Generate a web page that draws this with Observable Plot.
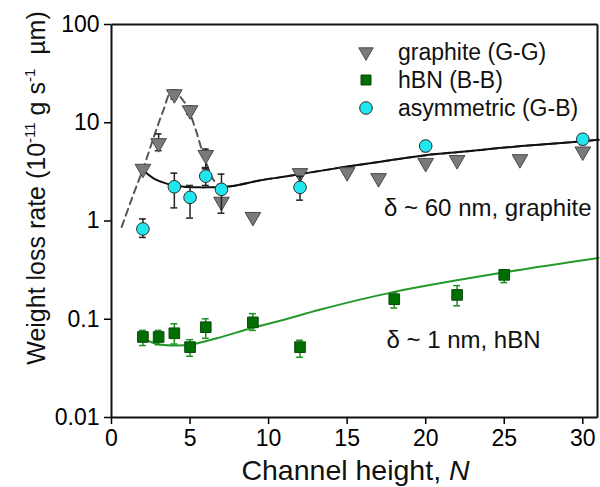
<!DOCTYPE html>
<html>
<head>
<meta charset="utf-8">
<script src="https://cdn.jsdelivr.net/npm/d3@7"></script>
<script src="https://cdn.jsdelivr.net/npm/@observablehq/plot@0.6"></script>
<style>
  html, body { margin: 0; padding: 0; background: #fff; }
  #chart svg { display: block; }
</style>
</head>
<body>
<div id="chart"></div>
<script>
// ---- Data ----
const graphiteN    = [2, 3, 4, 5, 6, 7, 9, 12, 15, 17, 20, 22, 26, 30];
const graphiteRate = [3.4, 6.2, 19.5, 13.4, 4.7, 1.57, 1.1, 3.07, 3.14, 2.73, 3.9, 4.17, 4.26, 5.1];
const graphiteErrN  = [3, 4, 5, 6];
const graphiteErrLo = [5.2, 17.5, 12.2, 3.5];
const graphiteErrHi = [7.7, 21.5, 14.8, 5.4];

const hbnN    = [2, 3, 4, 5, 6, 9, 12, 18, 22, 25];
const hbnRate = [0.066, 0.066, 0.072, 0.052, 0.083, 0.093, 0.052, 0.16, 0.177, 0.283];
const hbnLo   = [0.054, 0.055, 0.056, 0.042, 0.064, 0.077, 0.041, 0.13, 0.137, 0.236];
const hbnHi   = [0.077, 0.077, 0.09, 0.062, 0.101, 0.114, 0.061, 0.187, 0.22, 0.318];

const asymN    = [2, 4, 5, 6, 7, 12, 20, 30];
const asymRate = [0.83, 2.23, 1.74, 2.86, 2.1, 2.2, 5.8, 6.8];
const asymLo   = [0.68, 1.36, 1.07, 2.3, 1.2, 1.63, 5.1, 6.0];
const asymHi   = [1.05, 3.07, 2.3, 3.4, 3.0, 2.85, 6.5, 7.6];

// fitted curves
const fitGN    = [2, 2.7, 3.5, 4.6, 5.6, 6.1, 7, 7.7, 9.5, 10.7, 12, 14.9, 17.5, 20, 22.5, 25.5, 28, 31];
const fitGRate = [3.3, 2.7, 2.4, 2.23, 2.2, 2.2, 2.22, 2.27, 2.6, 2.78, 3.0, 3.56, 4.1, 4.68, 5.1, 5.68, 6.1, 6.7];

const peakN    = [0.65, 1.3, 2.05, 2.7, 3.3, 3.85, 4.7, 5.3, 5.75, 6.2, 6.5, 7, 7.7, 9.5, 10.7, 12, 14.9, 17.5, 20, 22.5, 25.5, 28, 31];
const peakRate = [0.87, 1.7, 3.55, 7.2, 13.4, 21, 15.7, 9.1, 5.3, 3.3, 2.6, 2.25, 2.27, 2.6, 2.78, 3.0, 3.56, 4.1, 4.68, 5.1, 5.68, 6.1, 6.7];

const fitBN    = [2, 2.9, 4, 5, 6.7, 9, 11.1, 13.25, 18, 25, 31];
const fitBRate = [0.064, 0.056, 0.054, 0.055, 0.064, 0.082, 0.1, 0.125, 0.19, 0.30, 0.42];

const xDomain = [0, 31];
const yDomain = [0.01, 100];
const xTicks = [0, 5, 10, 15, 20, 25, 30];
const yTicks = [0.01, 0.1, 1, 10, 100];
const yTickLabels = ["0.01", "0.1", "1", "10", "100"];

const legendLabels = ["graphite (G-G)", "hBN (B-B)", "asymmetric (G-B)"];
const annoText = ["\u03B4 ~ 60 nm, graphite", "\u03B4 ~ 1 nm, hBN"];
const annoN    = [17.35, 17.5];
const annoRate = [1.36, 0.0616];

// ---- build tables ----
const zip = (xs, ys) => xs.map((x, i) => ({x, y: ys[i]}));
const graphite = zip(graphiteN, graphiteRate);
const graphiteErr = graphiteErrN.map((x, i) => ({x, lo: graphiteErrLo[i], hi: graphiteErrHi[i]}));
const hbn = hbnN.map((x, i) => ({x, y: hbnRate[i], lo: hbnLo[i], hi: hbnHi[i]}));
const asym = asymN.map((x, i) => ({x, y: asymRate[i], lo: asymLo[i], hi: asymHi[i]}));
const fitG = zip(fitGN, fitGRate);
const peak = zip(peakN, peakRate);
const fitB = zip(fitBN, fitBRate);
const annos = annoText.map((t, i) => ({t, x: annoN[i], y: annoRate[i]}));

const FONT = "'Liberation Sans', Arial, Helvetica, sans-serif";
const cap = 0.22;

function errMarks(data, color) {
  return [
    Plot.ruleX(data, {x: "x", y1: "lo", y2: "hi", stroke: color, strokeWidth: 1.5}),
    Plot.ruleY(data, {y: "lo", x1: d => d.x - cap, x2: d => d.x + cap, stroke: color, strokeWidth: 1.5}),
    Plot.ruleY(data, {y: "hi", x1: d => d.x - cap, x2: d => d.x + cap, stroke: color, strokeWidth: 1.5})
  ];
}

const chart = Plot.plot({
  width: 600,
  height: 487,
  marginLeft: 111,
  marginRight: 2,
  marginTop: 24,
  marginBottom: 70,
  style: {fontFamily: FONT, background: "#fff", color: "#000", overflow: "visible"},
  x: {domain: xDomain},
  y: {type: "log", domain: yDomain},
  marks: [
    Plot.axisX({ticks: xTicks, tickSize: 7, tickPadding: 5, fontSize: 23, label: null, strokeWidth: 1.5}),
    Plot.axisY({ticks: yTicks, tickFormat: d => yTickLabels[yTicks.indexOf(d)], tickSize: 7, tickPadding: 5, fontSize: 23, label: null, strokeWidth: 1.5}),
    Plot.line(peak, {x: "x", y: "y", stroke: "#555", strokeWidth: 2, strokeDasharray: "7,5", curve: "catmull-rom"}),
    Plot.line(fitG, {x: "x", y: "y", stroke: "#111", strokeWidth: 2, curve: "catmull-rom"}),
    Plot.line(fitB, {x: "x", y: "y", stroke: "#22992a", strokeWidth: 2, curve: "catmull-rom"}),
    ...errMarks(graphiteErr, "#222"),
    ...errMarks(hbn, "#1f8f1f"),
    Plot.dot(graphite, {x: "x", y: "y", symbol: "triangle", rotate: 180, r: 5.8, fill: "#7a7a7a", stroke: "#4a4a4a", strokeWidth: 1}),
    Plot.dot(hbn, {x: "x", y: "y", symbol: "square", r: 6, fill: "#006e00", stroke: "#0d4a0d", strokeWidth: 1}),
    ...errMarks(asym, "#222"),
    Plot.dot(asym, {x: "x", y: "y", r: 6.3, fill: "#22e6ee", stroke: "#2a2a2a", strokeWidth: 1}),
    Plot.text(annos, {x: "x", y: "y", text: "t", textAnchor: "start", lineAnchor: "middle", fontSize: 24, fill: "#111"})
  ]
});

document.getElementById("chart").appendChild(chart);

const svg = d3.select(chart);
const sx = chart.scale("x"), sy = chart.scale("y");
const L = Math.round(sx.apply(xDomain[0])) + 0.5, R = Math.round(sx.apply(xDomain[1])) - 0.5;
const T = Math.round(sy.apply(yDomain[1])) + 0.5, B = Math.round(sy.apply(yDomain[0])) + 0.5;

// ---- plot box: four separate lines at the scale edges ----
const boxG = svg.append("g").attr("stroke", "#111").attr("stroke-width", 2);
[[L, T, L, B], [L, B, R, B], [R, T, R, B], [L, T, R, T]].forEach(([a, b, c, d]) => {
  boxG.append("line").attr("x1", a).attr("y1", b).attr("x2", c).attr("y2", d)
    .style("stroke", "#111").style("stroke-width", "2px");
});

// ---- legend ----
const leg = svg.append("g").attr("font-family", FONT).attr("font-size", 23).attr("fill", "#111").attr("text-anchor", "start");
const legY = [52, 80, 108];
const legSym = [
  {type: d3.symbolTriangle, size: 90, rot: 180, fill: "#7a7a7a", stroke: "#4a4a4a"},
  {type: d3.symbolSquare, size: 100, rot: 0, fill: "#006e00", stroke: "#0d4a0d"},
  {type: d3.symbolCircle, size: Math.PI * 6.3 * 6.3, rot: 0, fill: "#22e6ee", stroke: "#2a2a2a"}
];
legendLabels.forEach((lab, i) => {
  const s = legSym[i];
  leg.append("path")
    .attr("d", d3.symbol(s.type, s.size)())
    .attr("transform", `translate(366,${legY[i]}) rotate(${s.rot})`)
    .attr("fill", s.fill).attr("stroke", s.stroke).attr("stroke-width", 1);
  leg.append("text").attr("x", 398).attr("y", legY[i]).attr("dy", "0.35em").attr("text-anchor", "start").text(lab);
});

// y-axis title
const yt = svg.append("text")
  .attr("transform", "translate(45,188) rotate(-90)")
  .attr("text-anchor", "middle")
  .attr("font-family", FONT).attr("font-size", 25).attr("fill", "#111");
yt.append("tspan").text("Weight loss rate (10");
yt.append("tspan").attr("font-size", 15).attr("dy", -10).text("-11");
yt.append("tspan").attr("dy", 10).text(" g s");
yt.append("tspan").attr("font-size", 15).attr("dy", -10).text("-1");
yt.append("tspan").attr("dy", 10).text("\u00A0 \u00B5m)");

// x-axis title
const xt = svg.append("text")
  .attr("x", 355.5).attr("y", 480)
  .attr("text-anchor", "middle")
  .attr("font-family", FONT).attr("font-size", 28.5).attr("fill", "#111");
xt.append("tspan").text("Channel height, ");
xt.append("tspan").attr("font-style", "italic").text("N");
</script>
</body>
</html>
